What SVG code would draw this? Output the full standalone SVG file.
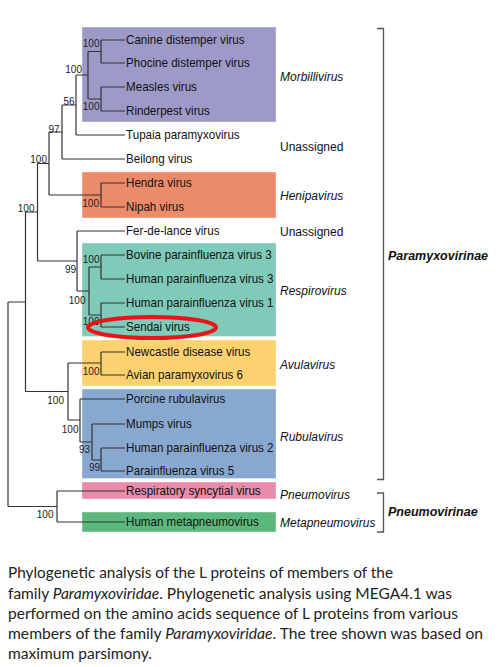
<svg xmlns="http://www.w3.org/2000/svg" width="500" height="667" viewBox="0 0 500 667">
<style>
.tip{font-family:"Liberation Sans",Arial,sans-serif;font-size:12.4px;fill:#111}
.bs{font-family:"Liberation Sans",Arial,sans-serif;font-size:10px;fill:#222;text-anchor:end}
.genus{font-family:"Liberation Sans",Arial,sans-serif;font-size:12px;font-style:italic;fill:#111}
.plain{font-family:"Liberation Sans",Arial,sans-serif;font-size:12px;fill:#111}
.sub{font-family:"Liberation Sans",Arial,sans-serif;font-size:12.5px;font-style:italic;font-weight:bold;fill:#111}
.cap{font-family:Lato,"Liberation Sans",sans-serif;font-size:14.5px;fill:#222}
.tree{fill:none;stroke:#333;stroke-width:1.2}
.brk{fill:none;stroke:#555;stroke-width:1.3}
.box{stroke:#fff;stroke-width:0.6;stroke-opacity:0.6}
</style>
<rect width="500" height="667" fill="#fff"/>
<g id="boxes">
<rect id="box-morbillivirus" class="box" x="82" y="27" width="194" height="95" fill="#9e9ac8"/>
<rect id="box-henipavirus" class="box" x="82" y="172" width="194" height="46" fill="#ec8b69"/>
<rect id="box-respirovirus" class="box" x="82" y="243" width="194" height="93.5" fill="#7fcab8"/>
<rect id="box-avulavirus" class="box" x="82" y="340" width="194" height="46" fill="#fcd270"/>
<rect id="box-rubulavirus" class="box" x="82" y="389" width="194" height="89.5" fill="#88a8d0"/>
<rect id="box-pneumovirus" class="box" x="82" y="482" width="194" height="17" fill="#e98bab"/>
<rect id="box-metapneumovirus" class="box" x="82" y="512" width="194" height="20" fill="#5cb97d"/>
</g>
<g id="connectors" class="tree">
<path d="M101,40V63M101,40H125M101,63H125"/>
<path d="M101,87V111M101,87H125M101,111H125"/>
<path d="M88,51.5V99M88,51.5H101M88,99H101"/>
<path d="M76,75V135M76,75H88M76,135H125"/>
<path d="M62,105V159M62,105H76M62,159H125"/>
<path d="M49,132V195M49,132H62M49,195H101"/>
<path d="M101,183V207M101,183H125M101,207H125"/>
<path d="M37.5,163.5V261M37.5,163.5H49M37.5,261H77"/>
<path d="M77,231V291M77,231H125M77,291H89"/>
<path d="M89,267V315M89,267H101M89,315H101"/>
<path d="M101,255V279M101,255H125M101,279H125"/>
<path d="M101,303V327M101,303H125M101,327H125"/>
<path d="M25.5,212V391.5M25.5,212H37.5M25.5,391.5H68"/>
<path d="M68,363V420M68,363H101M68,420H80"/>
<path d="M101,352V375M101,352H125M101,375H125"/>
<path d="M80,399V442M80,399H125M80,442H92"/>
<path d="M92,424V460M92,424H125M92,460H101"/>
<path d="M101,448V471M101,448H125M101,471H125"/>
<path d="M8,302V506.5M8,302H25.5M8,506.5H57"/>
<path d="M57,491V522M57,491H125M57,522H125"/>
</g>
<g id="tips" transform="scale(0.935 1)">
<text id="n-canine" class="tip" x="134.8" y="44.4">Canine distemper virus</text>
<text id="n-phocine" class="tip" x="134.8" y="67.4">Phocine distemper virus</text>
<text id="n-measles" class="tip" x="134.8" y="91.4">Measles virus</text>
<text id="n-rinderpest" class="tip" x="134.8" y="115.4">Rinderpest virus</text>
<text id="n-tupaia" class="tip" x="134.8" y="139.4">Tupaia paramyxovirus</text>
<text id="n-beilong" class="tip" x="134.8" y="163.4">Beilong virus</text>
<text id="n-hendra" class="tip" x="134.8" y="187.4">Hendra virus</text>
<text id="n-nipah" class="tip" x="134.8" y="211.4">Nipah virus</text>
<text id="n-ferdelance" class="tip" x="134.8" y="235.4">Fer-de-lance virus</text>
<text id="n-bpiv3" class="tip" x="134.8" y="259.4">Bovine parainfluenza virus 3</text>
<text id="n-hpiv3" class="tip" x="134.8" y="283.4">Human parainfluenza virus 3</text>
<text id="n-hpiv1" class="tip" x="134.8" y="307.4">Human parainfluenza virus 1</text>
<text id="n-sendai" class="tip" x="134.8" y="331.4">Sendai virus</text>
<text id="n-newcastle" class="tip" x="134.8" y="356.4">Newcastle disease virus</text>
<text id="n-avian" class="tip" x="134.8" y="379.4">Avian paramyxovirus 6</text>
<text id="n-porcine" class="tip" x="134.8" y="403.4">Porcine rubulavirus</text>
<text id="n-mumps" class="tip" x="134.8" y="428.4">Mumps virus</text>
<text id="n-hpiv2" class="tip" x="134.8" y="452.4">Human parainfluenza virus 2</text>
<text id="n-piv5" class="tip" x="134.8" y="475.4">Parainfluenza virus 5</text>
<text id="n-rsv" class="tip" x="134.8" y="495.4">Respiratory syncytial virus</text>
<text id="n-hmpv" class="tip" x="134.8" y="526.4">Human metapneumovirus</text>
</g>
<g id="bootstrap">
<text class="bs" x="99.5" y="47">100</text>
<text class="bs" x="82" y="73">100</text>
<text class="bs" x="74.5" y="105">56</text>
<text class="bs" x="99.5" y="109.5">100</text>
<text class="bs" x="59.5" y="132.5">97</text>
<text class="bs" x="47" y="163">100</text>
<text class="bs" x="99" y="206.5">100</text>
<text class="bs" x="34.5" y="212">100</text>
<text class="bs" x="99.5" y="263">100</text>
<text class="bs" x="76" y="273">99</text>
<text class="bs" x="85.5" y="304">100</text>
<text class="bs" x="99.5" y="324.5">100</text>
<text class="bs" x="99.5" y="375">100</text>
<text class="bs" x="64" y="404">100</text>
<text class="bs" x="78.5" y="432.5">100</text>
<text class="bs" x="90" y="453">93</text>
<text class="bs" x="100" y="470.5">99</text>
<text class="bs" x="53.5" y="518">100</text>
</g>
<ellipse id="highlight-sendai" cx="152" cy="327.5" rx="64" ry="10.5" fill="none" stroke="#e8141a" stroke-width="4"/>
<g id="genera">
<text class="genus" x="280" y="81">Morbillivirus</text>
<text class="plain" x="280" y="151">Unassigned</text>
<text class="genus" x="280" y="200">Henipavirus</text>
<text class="plain" x="280" y="236">Unassigned</text>
<text class="genus" x="280" y="295">Respirovirus</text>
<text class="genus" x="280" y="368.5">Avulavirus</text>
<text class="genus" x="280" y="440.5">Rubulavirus</text>
<text class="genus" x="280" y="498.5">Pneumovirus</text>
<text class="genus" x="280" y="527">Metapneumovirus</text>
</g>
<g id="subfamilies">
<path class="brk" d="M377,28.5H383.5V479.5H377"/>
<text class="sub" x="388" y="259.5">Paramyxovirinae</text>
<path class="brk" d="M377,493H383.5V532H377"/>
<text class="sub" x="388" y="516">Pneumovirinae</text>
</g>
<g id="caption">
<text class="cap" x="8" y="578.3" textLength="385" lengthAdjust="spacingAndGlyphs">Phylogenetic analysis of the L proteins of members of the</text>
<text class="cap" x="8" y="598.5" textLength="444" lengthAdjust="spacingAndGlyphs">family <tspan font-style="italic">Paramyxoviridae</tspan>. Phylogenetic analysis using MEGA4.1 was</text>
<text class="cap" x="8" y="618.5" textLength="450" lengthAdjust="spacingAndGlyphs">performed on the amino acids sequence of L proteins from various</text>
<text class="cap" x="8" y="638.5" textLength="475" lengthAdjust="spacingAndGlyphs">members of the family <tspan font-style="italic">Paramyxoviridae</tspan>. The tree shown was based on</text>
<text class="cap" x="8" y="658.5" textLength="144" lengthAdjust="spacingAndGlyphs">maximum parsimony.</text>
</g>
</svg>
